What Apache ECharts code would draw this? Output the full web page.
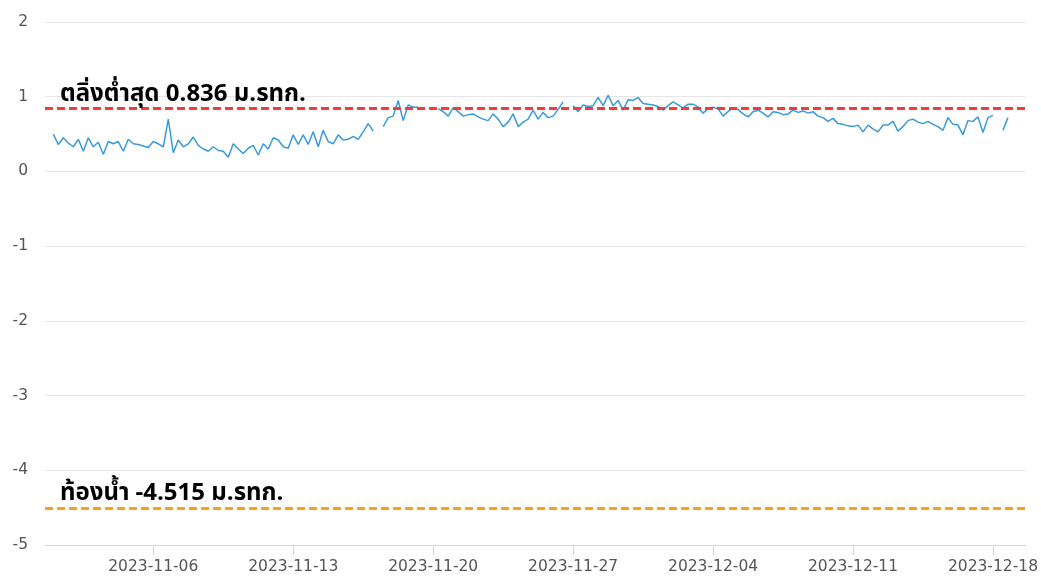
<!DOCTYPE html>
<html>
<head>
<meta charset="utf-8">
<script src="https://cdn.jsdelivr.net/npm/echarts@6/dist/echarts.min.js"></script>
<style>
html,body{margin:0;padding:0;background:#fff;}
#chart{width:1041px;height:588px;}
</style>
</head>
<body>
<div id="chart"></div>
<script>
// Water level (m. MSL) sampled every 6 hours starting 2023-11-01 00:00
const seriesStart = '2023-11-01 00:00';
const stepHours = 6;
const week1 = [0.50,0.36,0.45,0.38,0.33,0.43,0.27,0.45,0.33,0.39,
  0.23,0.40,0.37,0.40,0.27,0.43,0.37,0.36,0.34,0.32,
  0.40,0.37,0.33,0.70,0.25,0.42,0.33,0.37];
const week2 = [0.46,0.35,0.30,0.27,0.33,0.28,0.27,0.19,0.37,0.30,
  0.24,0.31,0.35,0.22,0.37,0.30,0.45,0.42,0.33,0.31,
  0.49,0.36,0.49,0.36,0.53,0.33,0.55,0.40];
const week3 = [0.37,0.49,0.42,0.43,0.47,0.43,0.53,0.64,0.54,null,
  0.60,0.72,0.74,0.95,0.68,0.89,0.86,0.86,null,0.86,
  null,0.84,0.80,0.74,0.85,0.80,0.74,0.76];
const week4 = [0.77,0.73,0.70,0.68,0.77,0.70,0.60,0.66,0.77,0.60,
  0.66,0.70,0.82,0.70,0.79,0.72,0.74,0.83,0.93,null,
  0.88,0.80,0.89,0.87,0.88,0.99,0.88,1.02];
const week5 = [0.88,0.95,0.82,0.96,0.95,0.99,0.91,0.90,0.89,0.87,
  0.82,0.88,0.93,0.89,0.85,0.90,0.90,0.86,0.78,0.84,
  0.86,0.84,0.74,0.80,0.85,0.83,0.77,0.73];
const week6 = [0.80,0.82,0.78,0.73,0.80,0.79,0.76,0.77,0.82,0.79,
  0.81,0.78,0.80,0.74,0.72,0.67,0.71,0.64,0.63,0.61,
  0.60,0.62,0.53,0.62,0.57,0.53,0.62,0.62];
const week7 = [0.67,0.54,0.60,0.68,0.70,0.66,0.64,0.67,0.63,0.60,
  0.55,0.72,0.63,0.62,0.49,0.68,0.67,0.73,0.52,0.72,
  0.75,null,0.55,0.72];

const tickLabels = ['2023-11-06','2023-11-13','2023-11-20','2023-11-27','2023-12-04','2023-12-11','2023-12-18'];
const axisStart = '2023-10-31 14:00';
const axisEnd = '2023-12-19 15:00';

const bankLevel = 0.836;
const bankLabel = 'ตลิ่งต่ำสุด 0.836 ม.รทก.';
const bedLevel = -4.515;
const bedLabel = 'ท้องน้ำ -4.515 ม.รทก.';

function parseLocal(s){
  const [d,t] = s.split(' ');
  const [y,m,dd] = d.split('-').map(Number);
  let hh=0, mm=0;
  if (t) { [hh,mm] = t.split(':').map(Number); }
  return new Date(y, m-1, dd, hh, mm).getTime();
}
const values = [].concat(week1,week2,week3,week4,week5,week6,week7);
const t0 = parseLocal(seriesStart);
const data = values.map((v,i)=>[t0 + i*stepHours*3600*1000, v]);
const tickValues = tickLabels.map(parseLocal);
function pad(n){return (n<10?'0':'')+n;}
function fmt(ts){const d=new Date(ts);return d.getFullYear()+'-'+pad(d.getMonth()+1)+'-'+pad(d.getDate());}

const FONT = "'Noto Sans Thai','Noto Sans','DejaVu Sans',sans-serif";
const AXFONT = "'DejaVu Sans',sans-serif";
const chart = echarts.init(document.getElementById('chart'));
chart.setOption({
  animation:false,
  backgroundColor:'#fff',
  grid:{left:45,right:15,top:22,bottom:43},
  xAxis:{
    type:'value',
    min:parseLocal(axisStart),
    max:parseLocal(axisEnd),
    axisLine:{onZero:false,lineStyle:{color:'#ccd6eb',width:1}},
    axisTick:{show:true,length:10,lineStyle:{color:'#ccd6eb'},customValues:tickValues},
    axisLabel:{customValues:tickValues,formatter:(v)=>fmt(v),color:'#555',fontSize:15.5,margin:14,fontFamily:AXFONT,hideOverlap:false},
    splitLine:{show:false}
  },
  yAxis:{
    type:'value',min:-5,max:2,interval:1,
    axisLine:{show:false},axisTick:{show:false},
    axisLabel:{color:'#555',fontSize:15.5,margin:17,fontFamily:AXFONT},
    splitLine:{lineStyle:{color:'#e6e6e6',width:1}}
  },
  series:[{
    type:'line',
    data:data,
    showSymbol:false,
    connectNulls:false,
    lineStyle:{color:'#3a9ad9',width:1.5},
    itemStyle:{color:'#3a9ad9'},
    markLine:{
      silent:true,symbol:'none',
      data:[
        {yAxis:bankLevel,lineStyle:{color:'#f23c3c',type:[8,4],width:3},
          label:{show:true,position:'insideStartTop',formatter:bankLabel,color:'#000',fontSize:24,fontWeight:'bold',fontFamily:FONT,distance:[15,1]}},
        {yAxis:bedLevel,lineStyle:{color:'#f5a21e',type:[8,4],width:3},
          label:{show:true,position:'insideStartTop',formatter:bedLabel,color:'#000',fontSize:24,fontWeight:'bold',fontFamily:FONT,distance:[15,1]}}
      ]
    }
  }]
});
</script>
</body>
</html>
